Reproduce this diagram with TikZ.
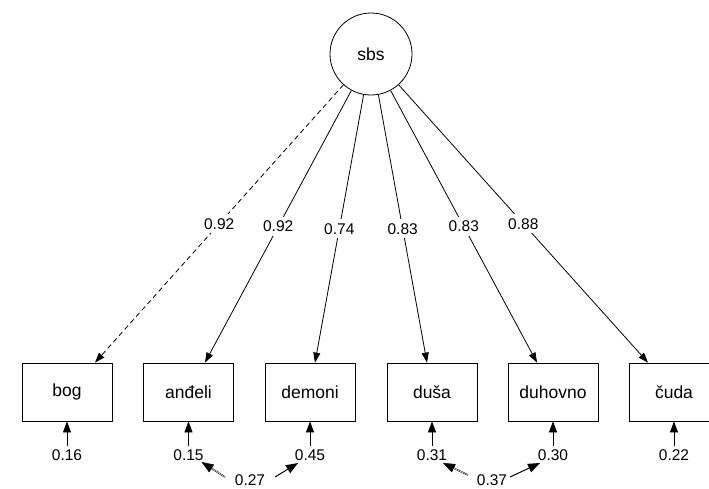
\documentclass[tikz,border=0pt]{standalone}
\usepackage{fontspec}
\setmainfont{Liberation Sans}
\usetikzlibrary{arrows.meta}
\begin{document}
\begin{tikzpicture}[x=1pt,y=-1pt,
  every path/.style={line width=0.8pt},
  latent/.style={circle,draw,minimum size=82pt,inner sep=0pt,font=\fontsize{17.5}{20}\selectfont},
  manifest/.style={rectangle,draw,minimum width=90pt,minimum height=58pt,inner sep=0pt,font=\fontsize{17.5}{20}\selectfont},
  num/.style={font=\fontsize{15.5}{18}\selectfont,inner sep=3pt},
  lab/.style={num,fill=white,inner sep=4pt},
  load/.style={-{Triangle[length=10pt,width=7pt]}},
  err/.style={-{Triangle[length=11pt,width=8pt]}},
  cov/.style={-{Triangle[length=12pt,width=9pt]},line width=1pt},
  covd/.style={-{Triangle[length=12pt,width=9pt]},double,line width=0.5pt,double distance=0.5pt}
]
\useasboundingbox (0,0) rectangle (709,488);
\node[latent] (sbs) at (371,54) {sbs};
\node[manifest] (bog) at (67,392) {bog};
\node[manifest] (and) at (188.5,392) {anđeli};
\node[manifest] (dem) at (310,392) {demoni};
\node[manifest] (dus) at (432,392) {duša};
\node[manifest] (duh) at (553,392) {duhovno};
\node[manifest] (cud) at (674,392) {čuda};
\coordinate (tbog) at ([xshift=28pt]bog.north);
\coordinate (tand) at ([xshift=16.5pt]and.north);
\coordinate (tdem) at ([xshift=5pt]dem.north);
\coordinate (tdus) at ([xshift=-5pt]dus.north);
\coordinate (tduh) at ([xshift=-16pt]duh.north);
\coordinate (tcud) at ([xshift=-26pt]cud.north);
\draw[load,dashed,dash pattern=on 5pt off 3.5pt] (sbs) -- (tbog) node[lab,midway] {0.92};
\draw[load] (sbs) -- (tand) node[lab,midway] {0.92};
\draw[load] (sbs) -- (tdem) node[lab,midway] {0.74};
\draw[load] (sbs) -- (tdus) node[lab,midway] {0.83};
\draw[load] (sbs) -- (tduh) node[lab,midway] {0.83};
\draw[load] (sbs) -- (tcud) node[lab,midway] {0.88};
\node[num] (e1) at (67,455) {0.16};
\node[num] (e2) at (188.5,455) {0.15};
\node[num] (e3) at (310,455) {0.45};
\node[num] (e4) at (432,455) {0.31};
\node[num] (e5) at (553,455) {0.30};
\node[num] (e6) at (674,455) {0.22};
\draw[err] (e1) -- (bog);
\draw[err] (e2) -- (and);
\draw[err] (e3) -- (dem);
\draw[err] (e4) -- (dus);
\draw[err] (e5) -- (duh);
\draw[err] (e6) -- (cud);
\node[num] (c1) at (250,480) {0.27};
\node[num] (c2) at (492,480) {0.37};
\coordinate (c1l) at ([shift={(-25,-3)}]c1.center);
\coordinate (c1r) at ([shift={(25,-3)}]c1.center);
\coordinate (c2l) at ([shift={(-24,-5)}]c2.center);
\coordinate (c2r) at ([shift={(18,-3)}]c2.center);
\coordinate (e2t) at ([shift={(13,7)}]e2.center);
\coordinate (e3t) at ([shift={(-12,8)}]e3.center);
\coordinate (e4t) at ([shift={(11,8)}]e4.center);
\coordinate (e5t) at ([shift={(-13,8)}]e5.center);
\draw[covd] (c1l) -- (e2t);
\draw[cov] (c1r) -- (e3t);
\draw[covd] (c2l) -- (e4t);
\draw[cov] (c2r) -- (e5t);
\end{tikzpicture}
\end{document}
